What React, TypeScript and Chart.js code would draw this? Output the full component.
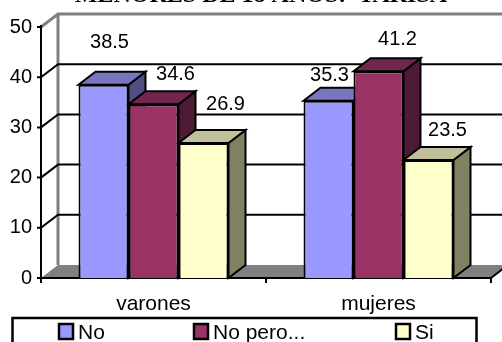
import React, { useEffect, useRef } from "react";
import { Chart, registerables } from "chart.js";

Chart.register(...registerables);

const categories = ["varones", "mujeres"];
const seriesNames = ["No", "No pero...", "Si"];
const noValues = [38.5, 35.3];
const noPeroValues = [34.6, 41.2];
const siValues = [26.9, 23.5];
const titleText = "MENORES DE 18 AÑOS:  TARISA";

const fronts = ["#9999FF", "#993366", "#FFFFCC"];
const tops = ["#7777C0", "#73264D", "#C0C09A"];
const sides = ["#4F4F85", "#4F1A35", "#808062"];
const DX = 17;
const DY = -13;
const FONT = '"Liberation Sans", Arial, sans-serif';

// label offsets from each bar's centre/top: [series][category]
const labelOffsets = [
  [[6, -42], [1, -25]],
  [[22, -30], [19, -32]],
  [[22, -38], [19, -30]],
];
const legendSwatchX = [59, 194, 396];

const scene = {
  id: "scene",
  beforeDatasetsDraw(chart: any) {
    const { ctx, chartArea: a, scales } = chart;
    const y = scales.y;
    ctx.save();
    // floor
    ctx.fillStyle = "#808080";
    ctx.beginPath();
    ctx.moveTo(a.left, a.bottom);
    ctx.lineTo(a.left + DX, a.bottom + DY);
    ctx.lineTo(a.right + DX, a.bottom + DY);
    ctx.lineTo(a.right, a.bottom);
    ctx.closePath();
    ctx.fill();
    // wall frame
    ctx.strokeStyle = "#808080";
    ctx.lineWidth = 3;
    ctx.beginPath();
    ctx.moveTo(a.left, a.top);
    ctx.lineTo(a.left + DX, a.top + DY);
    ctx.lineTo(a.right + DX, a.top + DY);
    ctx.moveTo(a.left + DX, a.top + DY);
    ctx.lineTo(a.left + DX, a.bottom + DY);
    ctx.stroke();
    // gridlines
    ctx.strokeStyle = "#000";
    ctx.lineWidth = 2;
    y.ticks.forEach((t: any) => {
      const py = y.getPixelForValue(t.value);
      ctx.beginPath();
      if (t.value > 0 && t.value < 50) {
        ctx.moveTo(a.left, py);
        ctx.lineTo(a.left + DX, py + DY);
        ctx.lineTo(a.right + DX, py + DY);
      }
      ctx.stroke();
    });
    // axes
    ctx.beginPath();
    ctx.moveTo(a.left, a.top - 2);
    ctx.lineTo(a.left, a.bottom + 5);
    ctx.moveTo(a.left - 4, a.bottom);
    ctx.lineTo(a.right, a.bottom);
    ctx.lineTo(a.right + DX, a.bottom + DY);
    [0.5, 1].forEach((f) => {
      const x = a.left + (a.right - a.left) * f;
      ctx.moveTo(x, a.bottom);
      ctx.lineTo(x, a.bottom + 5);
    });
    y.ticks.forEach((t: any) => {
      const py = y.getPixelForValue(t.value);
      ctx.moveTo(a.left - 4, py);
      ctx.lineTo(a.left, py);
    });
    ctx.stroke();
    // bar tops and sides
    ctx.lineJoin = "miter";
    const n = chart.data.labels.length;
    for (let c = 0; c < n; c++) {
      chart.data.datasets.forEach((_: any, s: number) => {
        const b = chart.getDatasetMeta(s).data[c];
        const l = b.x - b.width / 2;
        const r = b.x + b.width / 2;
        const t = b.y;
        const bot = b.base;
        ctx.fillStyle = sides[s];
        ctx.beginPath();
        ctx.moveTo(r, t);
        ctx.lineTo(r + DX, t + DY);
        ctx.lineTo(r + DX, bot + DY);
        ctx.lineTo(r, bot);
        ctx.closePath();
        ctx.fill();
        ctx.stroke();
        ctx.fillStyle = tops[s];
        ctx.beginPath();
        ctx.moveTo(l, t);
        ctx.lineTo(l + DX, t + DY);
        ctx.lineTo(r + DX, t + DY);
        ctx.lineTo(r, t);
        ctx.closePath();
        ctx.fill();
        ctx.stroke();
      });
    }
    ctx.restore();
  },
  afterDatasetsDraw(chart: any) {
    const { ctx, chartArea: a, width } = chart;
    ctx.save();
    // value labels
    ctx.fillStyle = "#000";
    ctx.font = `20px ${FONT}`;
    ctx.textAlign = "center";
    ctx.textBaseline = "middle";
    chart.data.datasets.forEach((ds: any, s: number) => {
      chart.getDatasetMeta(s).data.forEach((b: any, c: number) => {
        const [ox, oy] = labelOffsets[s][c];
        ctx.fillText(ds.data[c].toFixed(1), b.x + ox, b.y + oy);
      });
    });
    // clipped title
    ctx.font = `bold 24px "Liberation Serif", "Times New Roman", serif`;
    ctx.textBaseline = "alphabetic";
    ctx.fillText(titleText, width / 2 + 10, a.top - 25);
    // legend
    ctx.textBaseline = "middle";
    ctx.strokeStyle = "#000";
    ctx.lineWidth = 2.5;
    ctx.strokeRect(12.5, a.bottom + 40, 464, 30);
    ctx.textAlign = "left";
    ctx.font = `21px ${FONT}`;
    chart.data.datasets.forEach((ds: any, s: number) => {
      const x = legendSwatchX[s];
      ctx.fillStyle = fronts[s];
      ctx.fillRect(x, a.bottom + 46, 14, 15);
      ctx.strokeRect(x, a.bottom + 46, 14, 15);
      ctx.fillStyle = "#000";
      ctx.fillText(ds.label, x + 19, a.bottom + 55);
    });
    ctx.restore();
  },
};

export default function App() {
  const ref = useRef<HTMLCanvasElement>(null);
  useEffect(() => {
    document.body.style.margin = "0";
    const seriesValues = [noValues, noPeroValues, siValues];
    const chart = new Chart(ref.current!, {
      type: "bar",
      data: {
        labels: categories,
        datasets: seriesNames.map((label, i) => ({
          label,
          data: seriesValues[i],
          backgroundColor: fronts[i],
          borderColor: "#000",
          borderWidth: 2,
          categoryPercentage: 2 / 3,
          barPercentage: 1,
        })),
      },
      options: {
        responsive: false,
        animation: false,
        layout: { padding: { top: 27, right: 11, left: 0, bottom: 0 } },
        plugins: {
          legend: { display: false },
          tooltip: { enabled: false },
          title: { display: false },
        },
        scales: {
          x: {
            grid: { display: false, drawTicks: false },
            border: { display: false },
            ticks: {
              color: "#000",
              font: { family: FONT, size: 21 },
              padding: 14,
              maxRotation: 0,
            },
            afterFit: (s: any) => {
              s.height = 64;
            },
          },
          y: {
            min: 0,
            max: 50,
            grid: { display: false, drawTicks: false },
            border: { display: false },
            ticks: {
              stepSize: 10,
              color: "#000",
              font: { family: FONT, size: 20 },
              padding: 9,
            },
            afterFit: (s: any) => {
              s.width = 41;
            },
          },
        },
      },
      plugins: [scene],
    } as any);
    return () => chart.destroy();
  }, []);
  return (
    <canvas
      ref={ref}
      width={502}
      height={342}
      style={{ display: "block", width: 502, height: 342 }}
    />
  );
}
